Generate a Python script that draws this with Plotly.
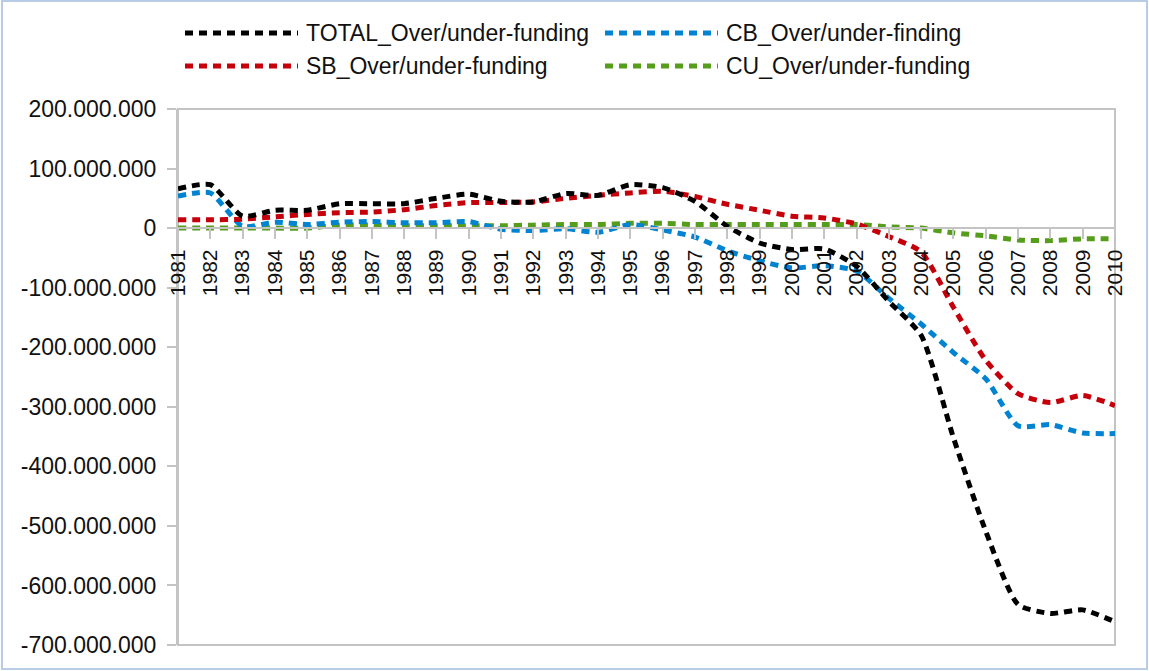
import plotly.graph_objects as go
import numpy as np

# ---------------- data (values in millions) ----------------
years = list(range(1981, 2011))

total_over_under = [66, 73, 20, 30, 30, 41, 41, 41, 50, 57,
                    45, 44, 58, 55, 73, 68, 45, 3, -25, -36,
                    -35, -64, -123, -180, -352, -509, -632, -647, -641, -661]
sb_over_under = [14, 14, 15, 19, 23, 26, 27, 31, 38, 43,
                 43, 44, 50, 55, 59, 62, 53, 40, 30, 20,
                 17, 7, -14, -40, -133, -222, -278, -293, -281, -298]
cb_over_under = [54, 59, 3, 10, 6, 10, 11, 9, 9, 11,
                 -2, -4, -1, -7, 6, -3, -15, -38, -55, -67,
                 -63, -72, -118, -161, -209, -253, -332, -330, -344, -345]
cu_over_under = [0, 0, 0, 0, 0, 5, 5, 4, 4, 4,
                 4, 5, 6, 6, 8, 8, 6, 6, 6, 6,
                 6, 6, 2, 0, -8, -13, -20, -21, -18, -18]

series_names = ["TOTAL_Over/under-funding", "CB_Over/under-finding",
                "SB_Over/under-funding", "CU_Over/under-funding"]
series_values = [total_over_under, cb_over_under, sb_over_under, cu_over_under]
series_colors = ["#000000", "#0084d1", "#c5000b", "#579d1c"]

y_tick_values = list(range(200_000_000, -800_000_000, -100_000_000))
y_tick_labels = [f"{v:,}".replace(",", ".") for v in y_tick_values]
x_tick_labels = [str(y) for y in years]

UNIT = 1_000_000
DASH = "8px,6px"
FONT = "Liberation Sans, Arial, sans-serif"

# ---------------- figure ----------------
fig = go.Figure()
# draw order: CU, CB, SB, TOTAL on top
for idx in [3, 1, 2, 0]:
    fig.add_trace(go.Scatter(
        x=years,
        y=np.array(series_values[idx]) * UNIT,
        mode="lines",
        name=series_names[idx],
        line=dict(color=series_colors[idx], width=5, dash=DASH,
                  shape="spline", smoothing=0.6),
        showlegend=False,
        hoverinfo="x+y+name",
    ))

W, H = 1149, 671
L, R, T, B = 178, 34, 109, 26
pw, ph = W - L - R, H - T - B

def px_x(px):
    return (px - L) / pw

def px_y(py):
    return (H - B - py) / ph

shapes = []
annotations = []
# custom legend (2 columns x 2 rows)
col_x = [185, 605]
row_y = [33, 66]
for i, (name, color) in enumerate(zip(series_names, series_colors)):
    cx = col_x[i % 2]
    ry = row_y[i // 2]
    shapes.append(dict(type="line", xref="paper", yref="paper",
                       x0=px_x(cx), x1=px_x(cx + 113),
                       y0=px_y(ry), y1=px_y(ry),
                       line=dict(color=color, width=5, dash=DASH)))
    annotations.append(dict(xref="paper", yref="paper",
                            x=px_x(cx + 119), y=px_y(ry),
                            xanchor="left", yanchor="middle",
                            text=name, showarrow=False,
                            font=dict(family=FONT, size=23, color="#111111")))

# plot-area frame
shapes.append(dict(type="rect", xref="paper", yref="paper",
                   x0=0, x1=1, y0=0, y1=1, layer="below",
                   line=dict(color="#c4c4c4", width=2)))
# outer picture frame
shapes.append(dict(type="rect", xref="paper", yref="paper",
                   x0=px_x(2), x1=px_x(1147), y0=px_y(669), y1=px_y(1),
                   line=dict(color="#b9cce6", width=2)))

zero_pos = (0 - y_tick_values[-1]) / (y_tick_values[0] - y_tick_values[-1])

fig.update_layout(
    width=W, height=H,
    margin=dict(l=L, r=R, t=T, b=B),
    paper_bgcolor="white",
    plot_bgcolor="white",
    font=dict(family=FONT, size=23, color="#111111"),
    shapes=shapes,
    annotations=annotations,
    showlegend=False,
    xaxis=dict(
        range=[years[0], years[-1]],
        tickmode="array", tickvals=years, ticktext=x_tick_labels,
        tickangle=-90,
        tickfont=dict(family=FONT, size=21, color="#111111"),
        anchor="free", position=zero_pos,
        showline=True, linecolor="#c4c4c4", linewidth=2,
        ticks="outside", ticklen=10, tickcolor="#c4c4c4", tickwidth=2,
        showgrid=False, zeroline=False,
        ticklabelstandoff=2,
    ),
    yaxis=dict(
        range=[y_tick_values[-1], y_tick_values[0]],
        tickmode="array", tickvals=y_tick_values, ticktext=y_tick_labels,
        tickfont=dict(family=FONT, size=23, color="#111111"),
        showline=True, linecolor="#c4c4c4", linewidth=2,
        ticks="outside", ticklen=9, tickcolor="#c4c4c4", tickwidth=2,
        showgrid=False, zeroline=False,
        ticklabelstandoff=6,
    ),
)

fig.write_html(
    "out.html",
    config={"displayModeBar": False},
    post_script="document.body.style.margin='0px';document.body.style.overflow='hidden';",
)
